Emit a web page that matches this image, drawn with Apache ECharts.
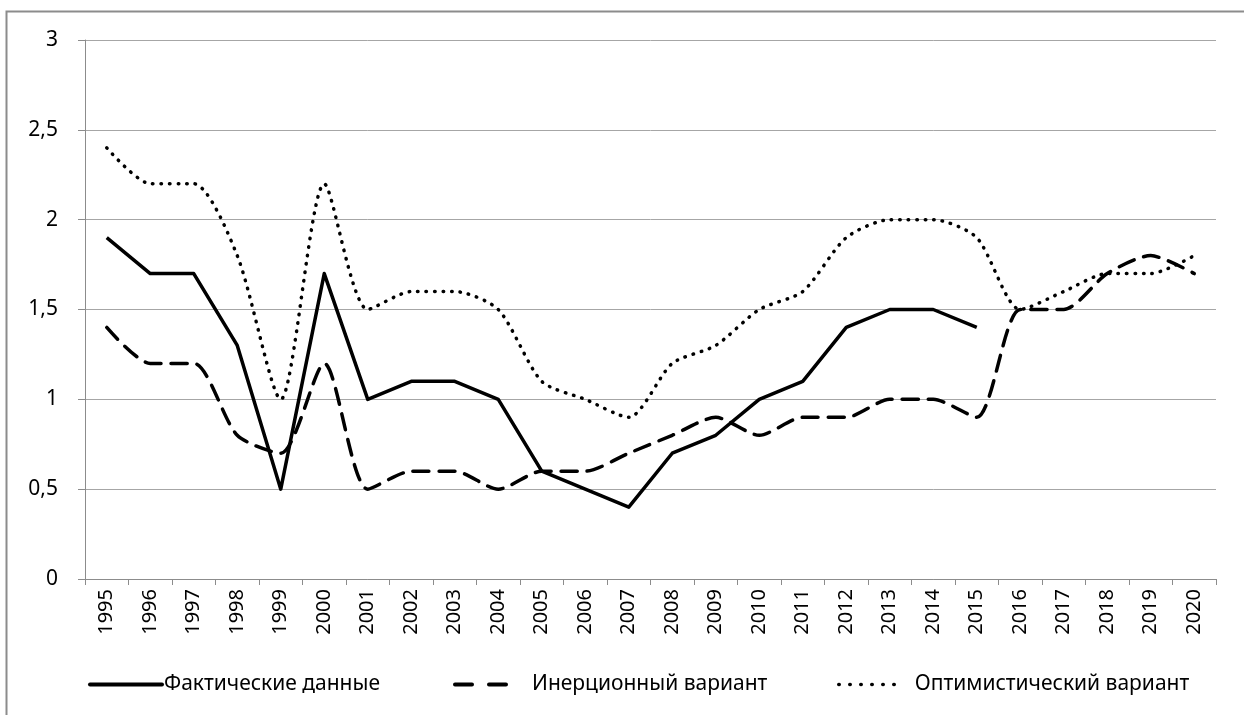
<!DOCTYPE html>
<html>
<head>
<meta charset="utf-8">
<script src="https://cdn.jsdelivr.net/npm/echarts@6/dist/echarts.min.js"></script>
<style>
  html, body { margin: 0; padding: 0; background: #fff; }
  #chart { width: 1244px; height: 715px; }
</style>
</head>
<body>
<div id="chart"></div>
<script>
  // годы
  const years = ['1995', '1996', '1997', '1998', '1999', '2000', '2001', '2002', '2003', '2004', '2005', '2006', '2007',
    '2008', '2009', '2010', '2011', '2012', '2013', '2014', '2015', '2016', '2017', '2018', '2019', '2020']
  // Фактические данные (до 2015)
  const factValues = [1.9, 1.7, 1.7, 1.3, 0.5, 1.7, 1.0, 1.1, 1.1, 1.0, 0.6, 0.5, 0.4,
    0.7, 0.8, 1.0, 1.1, 1.4, 1.5, 1.5, 1.4, null, null, null, null, null]
  // Инерционный вариант
  const inertValues = [1.4, 1.2, 1.2, 0.8, 0.7, 1.2, 0.5, 0.6, 0.6, 0.5, 0.6, 0.6, 0.7,
    0.8, 0.9, 0.8, 0.9, 0.9, 1.0, 1.0, 0.9, 1.5, 1.5, 1.7, 1.8, 1.7]
  // Оптимистический вариант
  const optValues = [2.4, 2.2, 2.2, 1.8, 1.0, 2.2, 1.5, 1.6, 1.6, 1.5, 1.1, 1.0, 0.9,
    1.2, 1.3, 1.5, 1.6, 1.9, 2.0, 2.0, 1.9, 1.5, 1.6, 1.7, 1.7, 1.8]
  const yTicks = { min: 0, max: 3, interval: 0.5 }

  const font = 'Noto Sans'
  // стили линий
  const solidStyle = { color: '#000', width: 3.5, type: 'solid', join: 'round' }
  const dashStyle = { color: '#000', width: 3.5, type: [16, 10], cap: 'round' }
  const dotStyle = { color: '#000', width: 3.5, type: [0.5, 8], cap: 'round' }

  let chart = echarts.init(document.getElementById('chart'))

  // отдельная легенда для каждой серии, чтобы расставить как в оригинале
  function legendAt(name, left, lineWidth, gap, style) {
    return {
      data: [name],
      left: left,
      top: 669,
      itemWidth: lineWidth,
      itemHeight: 14,
      itemGap: 0,
      selectedMode: false,
      itemStyle: { opacity: 0 },
      lineStyle: style,
      textStyle: { color: '#000', fontSize: 21, fontFamily: font, padding: [0, 0, 0, gap - 5] }
    }
  }

  let option = {
    animation: false,
    graphic: [{ // рамка вокруг диаграммы
      type: 'rect',
      shape: { x: 6.5, y: 11.5, width: 1300, height: 800 },
      style: { fill: 'none', stroke: '#8c8c8c', lineWidth: 2 },
      z: -1
    }],
    grid: { left: 85, top: 40, right: 28, bottom: 136 },
    legend: [
      legendAt('Фактические данные', 83, 72, 2, { width: 4, type: 'solid', cap: 'round' }),
      legendAt('Инерционный вариант', 448, 54, 23, { width: 4, type: [17, 17], cap: 'round' }),
      legendAt('Оптимистический вариант', 832, 65, 11, { width: 3.5, type: [0.5, 10.5], cap: 'round' })
    ],
    xAxis: {
      type: 'category',
      data: years,
      boundaryGap: true,
      axisLine: { lineStyle: { color: '#8c8c8c', width: 1 } },
      axisTick: { show: true, length: 6, lineStyle: { color: '#8c8c8c' } },
      axisLabel: { rotate: 90, interval: 0, color: '#000', fontSize: 20, fontFamily: font, margin: 10 }
    },
    yAxis: {
      type: 'value',
      min: yTicks.min,
      max: yTicks.max,
      interval: yTicks.interval,
      axisLine: { show: true, lineStyle: { color: '#8c8c8c', width: 1 } },
      axisTick: { show: true, length: 7, lineStyle: { color: '#8c8c8c' } },
      splitLine: { lineStyle: { color: '#a6a6a6', width: 1 } },
      axisLabel: {
        color: '#000', fontSize: 21, fontFamily: font, margin: 27,
        formatter: v => String(v).replace('.', ',')
      }
    },
    series: [
      {
        name: 'Фактические данные',
        type: 'line',
        data: factValues,
        symbol: 'none',
        lineStyle: solidStyle,
        itemStyle: { color: '#000' }
      },
      {
        name: 'Инерционный вариант',
        type: 'line',
        data: inertValues,
        symbol: 'none',
        smooth: 0.25,
        lineStyle: dashStyle,
        itemStyle: { color: '#000' }
      },
      {
        name: 'Оптимистический вариант',
        type: 'line',
        data: optValues,
        symbol: 'none',
        smooth: 0.25,
        lineStyle: dotStyle,
        itemStyle: { color: '#000' }
      }
    ]
  }
  chart.setOption(option)
</script>
</body>
</html>
